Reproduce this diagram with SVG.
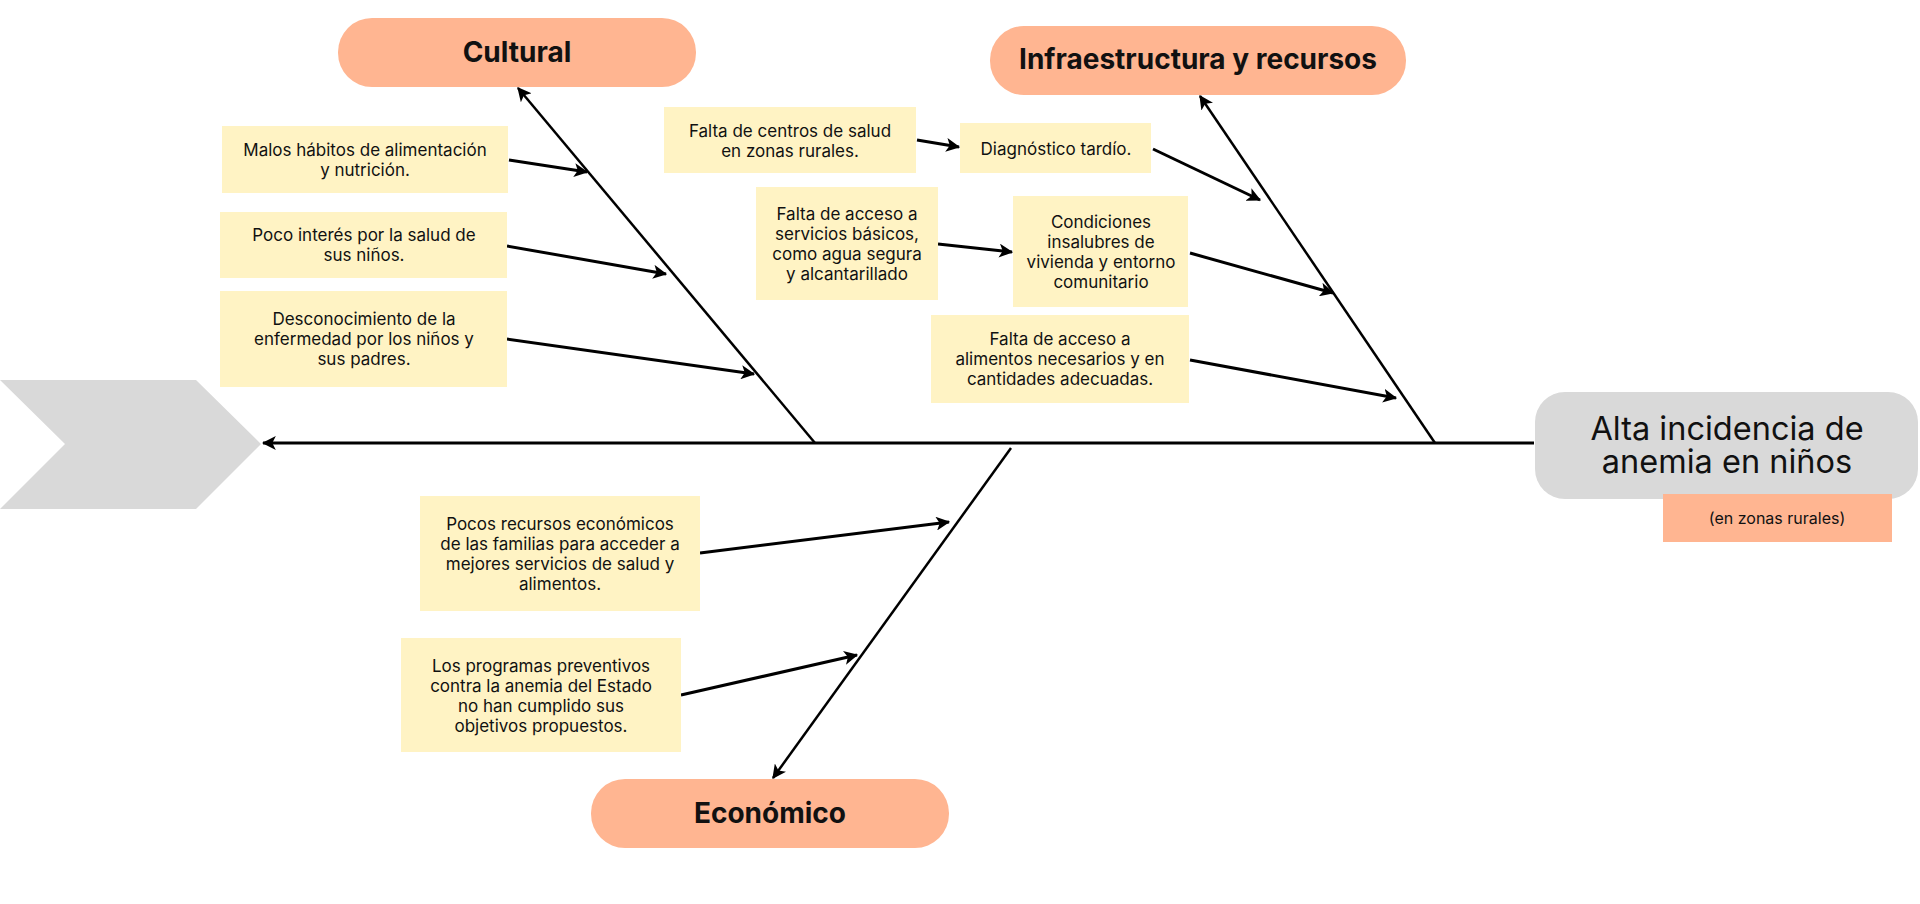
<svg xmlns="http://www.w3.org/2000/svg" width="1920" height="904" viewBox="0 0 1920 904">
<style>
.bg{fill:#ffffff}
.pill{fill:#FFB591}
.note{fill:#FFF3C4}
.gray{fill:#D9D9D9}
.t{font-family:Inter,"Noto Sans",sans-serif;font-size:17px;fill:#111;text-anchor:middle}
.h{font-family:Inter,"Noto Sans",sans-serif;font-size:28px;font-weight:700;fill:#111;text-anchor:middle}
.e{font-family:Inter,"Noto Sans",sans-serif;font-size:32.5px;fill:#111;text-anchor:middle}
.s{font-family:Inter,"Noto Sans",sans-serif;font-size:16px;fill:#111;text-anchor:middle}
.ln{fill:none;stroke:#000;stroke-width:3;marker-end:url(#ah)}
.sp{fill:none;stroke:#000;stroke-width:2.5;marker-end:url(#ah)}
.ax{fill:none;stroke:#000;stroke-width:3;marker-end:url(#ah)}
</style>
<defs>
<marker id="ah" markerUnits="userSpaceOnUse" markerWidth="14" markerHeight="14" viewBox="0 0 12 12" refX="11" refY="6" orient="auto">
<path d="M0,0 L12,6 L0,12 L3,6 z" fill="#000"/>
</marker>
</defs>
<rect class="bg" x="0" y="0" width="1920" height="904"/>

<g id="tail">
<polygon class="gray" points="0,380 196,380 261,444 196,509 0,509 65,444"/>
</g>

<g id="connectors">
<path class="ax" d="M1534,443 L263,443"/>
<path class="sp" d="M815,443 L518,88"/>
<path class="sp" d="M1435,443 L1200,96"/>
<path class="sp" d="M1011,448 L773,778"/>
<path class="ln" d="M509,160 L587,172"/>
<path class="ln" d="M507,246 L666,274"/>
<path class="ln" d="M507,339 L754,374"/>
<path class="ln" d="M917,140 L959,147"/>
<path class="ln" d="M1153,149 L1260,200"/>
<path class="ln" d="M938,244 L1012,252"/>
<path class="ln" d="M1190,253 L1333,293"/>
<path class="ln" d="M1190,360 L1396,398"/>
<path class="ln" d="M700,553 L949,522"/>
<path class="ln" d="M681,695 L857,655"/>
</g>

<g id="effect">
<rect class="gray" x="1535" y="392" width="383" height="107" rx="30"/>
<text class="e" x="1727" y="440">Alta incidencia de<tspan x="1727" dy="33">anemia en niños</tspan></text>
</g>
<g id="effect-note">
<rect class="pill" x="1663" y="494" width="229" height="48"/>
<text class="s" x="1777" y="524">(en zonas rurales)</text>
</g>

<g id="cultural">
<rect class="pill" x="338" y="18" width="358" height="69" rx="34"/>
<text class="h" x="517" y="62">Cultural</text>
</g>
<g id="infraestructura">
<rect class="pill" x="990" y="26" width="416" height="69" rx="34"/>
<text class="h" x="1198" y="69">Infraestructura y recursos</text>
</g>
<g id="economico">
<rect class="pill" x="591" y="779" width="358" height="69" rx="34"/>
<text class="h" x="770" y="823">Económico</text>
</g>

<g id="malos-habitos">
<rect class="note" x="222" y="126" width="286" height="67"/>
<text class="t" x="365" y="156">Malos hábitos de alimentación</text>
<text class="t" x="365" y="176">y nutrición.</text>
</g>
<g id="poco-interes">
<rect class="note" x="220" y="212" width="287" height="66"/>
<text class="t" x="364" y="241">Poco interés por la salud de</text>
<text class="t" x="364" y="261">sus niños.</text>
</g>
<g id="desconocimiento">
<rect class="note" x="220" y="291" width="287" height="96"/>
<text class="t" x="364" y="325">Desconocimiento de la</text>
<text class="t" x="364" y="345">enfermedad por los niños y</text>
<text class="t" x="364" y="365">sus padres.</text>
</g>

<g id="falta-centros">
<rect class="note" x="664" y="107" width="252" height="66"/>
<text class="t" x="790" y="137">Falta de centros de salud</text>
<text class="t" x="790" y="157">en zonas rurales.</text>
</g>
<g id="diagnostico">
<rect class="note" x="960" y="123" width="191" height="50"/>
<text class="t" x="1056" y="155">Diagnóstico tardío.</text>
</g>
<g id="servicios-basicos">
<rect class="note" x="756" y="187" width="182" height="113"/>
<text class="t" x="847" y="220">Falta de acceso a</text>
<text class="t" x="847" y="240">servicios básicos,</text>
<text class="t" x="847" y="260">como agua segura</text>
<text class="t" x="847" y="280">y alcantarillado</text>
</g>
<g id="condiciones">
<rect class="note" x="1013" y="196" width="175" height="111"/>
<text class="t" x="1101" y="228">Condiciones</text>
<text class="t" x="1101" y="248">insalubres de</text>
<text class="t" x="1101" y="268">vivienda y entorno</text>
<text class="t" x="1101" y="288">comunitario</text>
</g>
<g id="alimentos">
<rect class="note" x="931" y="315" width="258" height="88"/>
<text class="t" x="1060" y="345">Falta de acceso a</text>
<text class="t" x="1060" y="365">alimentos necesarios y en</text>
<text class="t" x="1060" y="385">cantidades adecuadas.</text>
</g>

<g id="pocos-recursos">
<rect class="note" x="420" y="496" width="280" height="115"/>
<text class="t" x="560" y="530">Pocos recursos económicos</text>
<text class="t" x="560" y="550">de las familias para acceder a</text>
<text class="t" x="560" y="570">mejores servicios de salud y</text>
<text class="t" x="560" y="590">alimentos.</text>
</g>
<g id="programas">
<rect class="note" x="401" y="638" width="280" height="114"/>
<text class="t" x="541" y="672">Los programas preventivos</text>
<text class="t" x="541" y="692">contra la anemia del Estado</text>
<text class="t" x="541" y="712">no han cumplido sus</text>
<text class="t" x="541" y="732">objetivos propuestos.</text>
</g>
</svg>
